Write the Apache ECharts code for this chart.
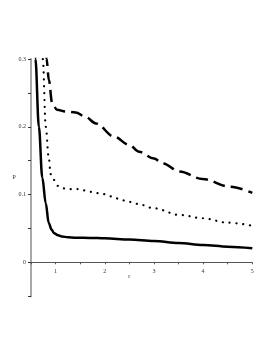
<!DOCTYPE html>
<html><head><meta charset="utf-8">
<script src="https://cdn.jsdelivr.net/npm/echarts@6/dist/echarts.min.js"></script>
<style>html,body{margin:0;padding:0;background:#fff}#c{width:273px;height:353px}</style>
</head><body><div id="c"></div>
<script>
// r values and P values for each curve
var solidR = [0.55, 0.59, 0.66, 0.73, 0.80, 0.86, 0.92, 0.97, 1.05, 1.13, 1.25, 1.41, 1.7, 2.0, 2.5, 3.0, 3.5, 4.0, 4.5, 5.0];
var solidP = [0.40, 0.30, 0.20, 0.125, 0.087, 0.058, 0.048, 0.043, 0.040, 0.038, 0.037, 0.0364, 0.036, 0.0354, 0.0335, 0.0315, 0.0285, 0.0255, 0.023, 0.0207];
var dottedR = [0.70, 0.74, 0.80, 0.86, 0.90, 0.965, 1.05, 1.17, 1.33, 1.46, 1.6, 1.73, 1.87, 2.0, 2.15, 2.29, 2.43, 2.56, 2.69, 2.99, 3.52, 3.99, 4.5, 5.0];
var dottedP = [0.38, 0.30, 0.20, 0.155, 0.13, 0.1216, 0.1127, 0.109, 0.108, 0.108, 0.106, 0.104, 0.102, 0.1005, 0.097, 0.0935, 0.0905, 0.0886, 0.0857, 0.0798, 0.070, 0.065, 0.0585, 0.054];
var dashedR = [0.79, 0.816, 0.863, 0.93, 1.03, 1.2, 1.41, 1.6, 1.82, 2.19, 2.5, 2.7, 3.0, 3.18, 3.52, 3.99, 4.54, 5.0];
var dashedP = [0.36, 0.30, 0.269, 0.235, 0.225, 0.2225, 0.221, 0.215, 0.205, 0.1855, 0.173, 0.163, 0.153, 0.146, 0.134, 0.123, 0.1117, 0.1025];
var xTickLabels = ['1', '2', '3', '4', '5'];
var yTickLabels = ['0', '0.1', '0.2', '0.3'];

function pairs(a, b) { return a.map(function (v, i) { return [v, b[i]]; }); }
var font = 'Liberation Serif';
var chart = echarts.init(document.getElementById('c'), null, {renderer: 'canvas'});
chart.setOption({
  animation: false,
  grid: [
    {left: 31, right: 20.7, top: 59, bottom: 90.7, containLabel: false},
    {left: 31, right: 20.7, top: 262.3, bottom: 56.5, containLabel: false}
  ],
  graphic: [{
    type: 'text', left: 12.5, top: 174,
    style: {text: 'P', fontFamily: font, fontSize: 6, fill: '#333'}
  }],
  xAxis: [{
    gridIndex: 0, type: 'value', min: 0.5, max: 5, interval: 0.5,
    name: 'r', nameLocation: 'middle', nameGap: 11, nameMoveOverlap: false,
    nameTextStyle: {fontFamily: font, fontSize: 6, color: '#333', padding: [0, 25, 0, 0]},
    axisLine: {onZero: false, lineStyle: {color: '#555', width: 1}},
    axisTick: {show: true, length: 2, lineStyle: {color: '#555'}},
    axisLabel: {fontFamily: font, fontSize: 6, color: '#333', margin: 6,
      formatter: function (v) { var s = String(Math.round(v)); return (Math.abs(v - Math.round(v)) < 1e-6 && xTickLabels.indexOf(s) >= 0) ? s : ''; }},
    splitLine: {show: false}
  }, {
    gridIndex: 1, type: 'value', min: 0.5, max: 5, interval: 0.5, show: false
  }],
  yAxis: [{
    gridIndex: 0, type: 'value', min: 0, max: 0.3, interval: 0.05,
    axisLine: {lineStyle: {color: '#a8a8a8', width: 2}},
    axisTick: {show: true, length: 3, lineStyle: {color: '#333'}},
    axisLabel: {fontFamily: font, fontSize: 6, color: '#333', margin: 5,
      formatter: function (v) { var s = String(Math.round(v * 10) / 10); return (Math.abs(v * 10 - Math.round(v * 10)) < 1e-6 && yTickLabels.indexOf(s) >= 0) ? s : ''; }},
    splitLine: {show: false}
  }, {
    gridIndex: 1, type: 'value', min: -0.05, max: 0, interval: 0.05,
    axisLine: {lineStyle: {color: '#a8a8a8', width: 2}},
    axisTick: {show: true, length: 3, lineStyle: {color: '#333'}},
    axisLabel: {show: false},
    splitLine: {show: false}
  }],
  series: [
    {type: 'line', xAxisIndex: 0, yAxisIndex: 0, data: pairs(solidR, solidP), showSymbol: false, smooth: 0.35, smoothMonotone: 'x', clip: true,
      lineStyle: {color: '#000', width: 2.5, type: 'solid'}},
    {type: 'line', xAxisIndex: 0, yAxisIndex: 0, data: pairs(dottedR, dottedP), showSymbol: false, smooth: 0.35, smoothMonotone: 'x', clip: true,
      lineStyle: {color: '#000', width: 2.2, type: [0.1, 6.7], cap: 'round'}},
    {type: 'line', xAxisIndex: 0, yAxisIndex: 0, data: pairs(dashedR, dashedP), showSymbol: false, smooth: 0.35, smoothMonotone: 'x', clip: true,
      lineStyle: {color: '#000', width: 2.5, type: [12, 6]}}
  ]
});
</script></body></html>
